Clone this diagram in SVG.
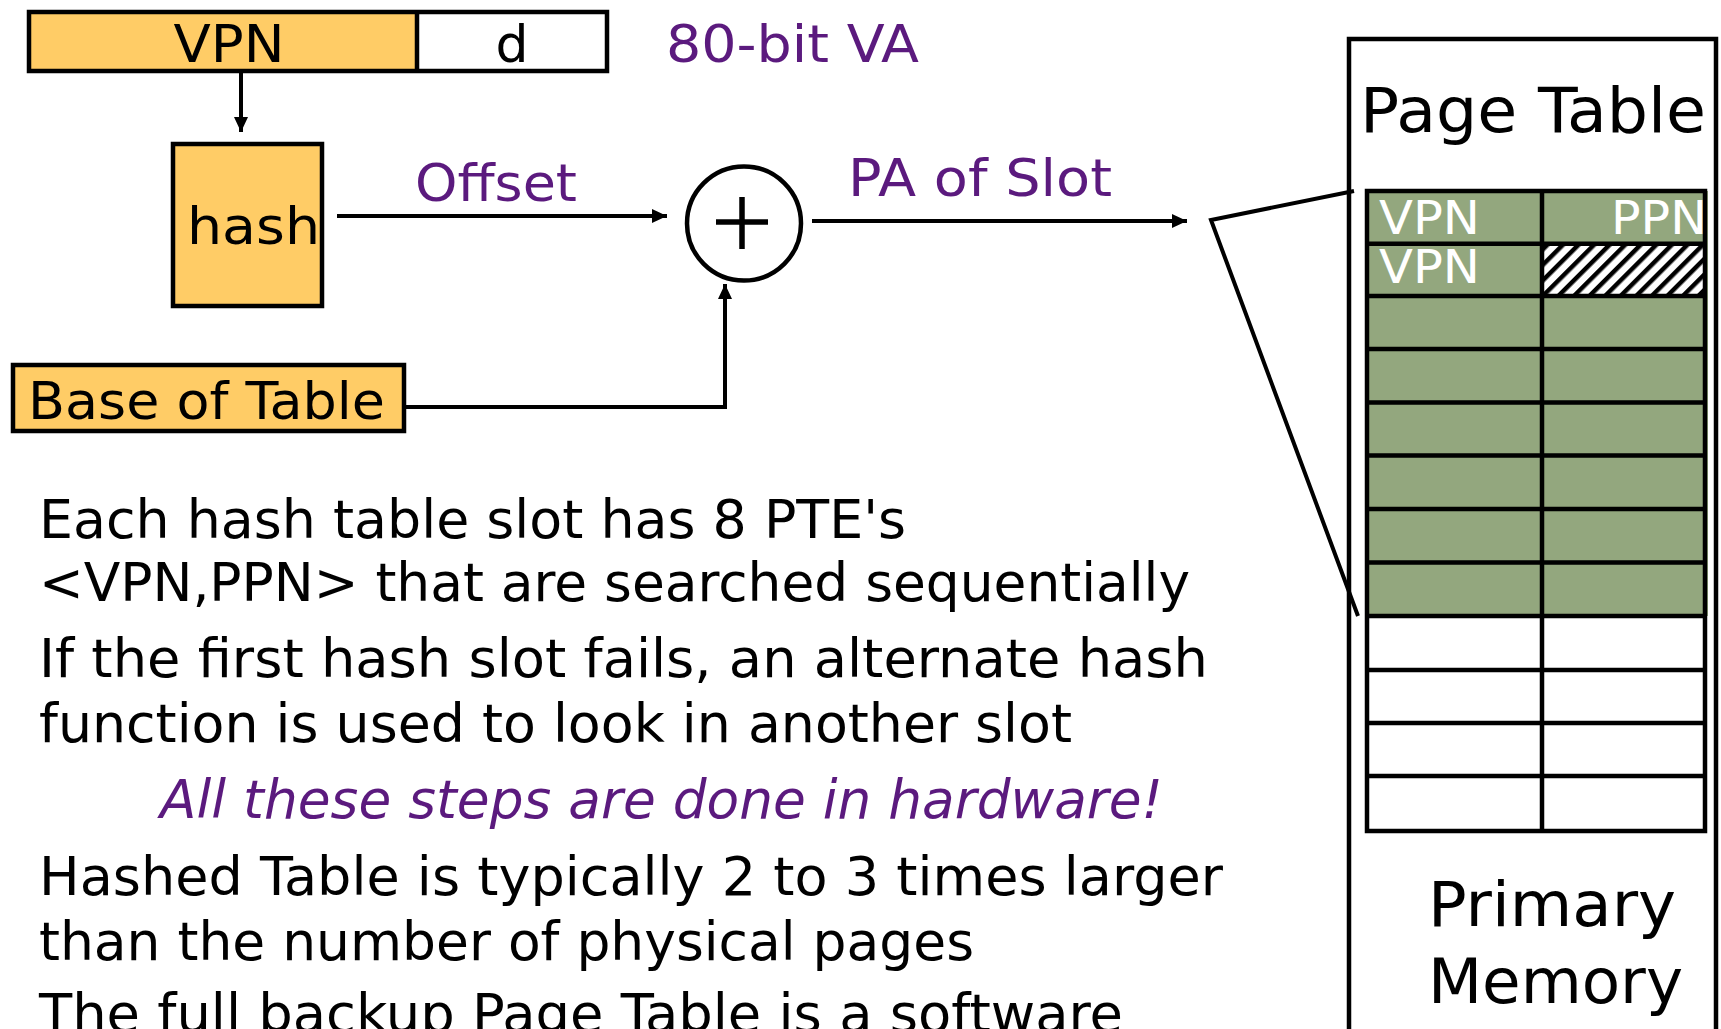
<svg xmlns="http://www.w3.org/2000/svg" width="1721" height="1029" viewBox="0 0 1721 1029">
<style>
  text { font-family: "DejaVu Sans", Verdana, sans-serif; fill: #000; }
  .purple { fill: #5b1a7e; }
  .box { stroke: #000; stroke-width: 4.5; }
  .orange { fill: #ffcc66; }
  .conn { stroke: #000; stroke-width: 4; fill: none; }
  .grid { stroke: #000; stroke-width: 4.5; fill: none; }
  .cell { fill: #ffffff; font-size: 46px; }
</style>
<defs>
  <marker id="arrow" viewBox="0 0 15 14" refX="15" refY="7" markerWidth="15" markerHeight="14" markerUnits="userSpaceOnUse" orient="auto">
    <path d="M0,0 L15,7 L0,14 Z" fill="#000"/>
  </marker>
  <pattern id="hatch" patternUnits="userSpaceOnUse" width="11" height="11" patternTransform="rotate(45)">
    <rect width="11" height="11" fill="#fff"/>
    <rect x="0" y="0" width="4.5" height="11" fill="#000"/>
  </pattern>
</defs>

<rect width="1721" height="1029" fill="#fff"/>

<g id="va">
  <rect x="29" y="12" width="388" height="59" class="orange"/>
  <rect x="417" y="12" width="190" height="59" fill="#fff"/>
  <rect x="29" y="12" width="578" height="59" class="box" fill="none"/>
  <line x1="417" y1="12" x2="417" y2="71" class="box"/>
  <text x="229" y="62" font-size="52" text-anchor="middle" textLength="111" lengthAdjust="spacingAndGlyphs">VPN</text>
  <text x="512" y="62" font-size="52" text-anchor="middle">d</text>
  <text x="666" y="62" font-size="52" class="purple" textLength="253" lengthAdjust="spacingAndGlyphs">80-bit VA</text>
</g>

<g id="hash">
  <rect x="173" y="144" width="149" height="162" class="box orange"/>
  <text x="187" y="244" font-size="52" textLength="133" lengthAdjust="spacingAndGlyphs">hash</text>
</g>

<g id="base">
  <rect x="13" y="365" width="391" height="66" class="box orange"/>
  <text x="28" y="419" font-size="52" textLength="357" lengthAdjust="spacingAndGlyphs">Base of Table</text>
</g>

<g id="adder">
  <circle cx="744" cy="223.5" r="57" fill="#fff" stroke="#000" stroke-width="4.5"/>
  <line x1="716" y1="222" x2="768" y2="222" stroke="#000" stroke-width="5.5"/>
  <line x1="742" y1="197" x2="742" y2="249" stroke="#000" stroke-width="5.5"/>
</g>

<g id="labels">
  <text x="415" y="201" font-size="52" class="purple" textLength="162" lengthAdjust="spacingAndGlyphs">Offset</text>
  <text x="848" y="196" font-size="52" class="purple" textLength="264" lengthAdjust="spacingAndGlyphs">PA of Slot</text>
</g>

<g id="connectors">
  <line x1="241" y1="73" x2="241" y2="132" class="conn" marker-end="url(#arrow)"/>
  <line x1="337" y1="216" x2="667" y2="216" class="conn" marker-end="url(#arrow)"/>
  <path d="M404,407 H725 V284" class="conn" marker-end="url(#arrow)"/>
  <line x1="812" y1="221" x2="1187" y2="221" class="conn" marker-end="url(#arrow)"/>
  <polyline points="1354,191 1211,220 1358,616" class="conn"/>
</g>

<g id="memory">
  <rect x="1349" y="39" width="367" height="1010" fill="none" class="box"/>
  <text x="1360" y="132" font-size="62" textLength="346" lengthAdjust="spacingAndGlyphs">Page Table</text>
  <text x="1428" y="926" font-size="62" textLength="248" lengthAdjust="spacingAndGlyphs">Primary</text>
  <text x="1428" y="1003" font-size="62" textLength="255" lengthAdjust="spacingAndGlyphs">Memory</text>
</g>

<g id="page-table">
  <rect x="1365" y="191" width="343" height="425" fill="#93a77e"/>
  <rect x="1542" y="243.7" width="163" height="52.3" fill="url(#hatch)"/>
  <rect x="1367" y="191" width="338" height="640" class="grid"/>
  <line x1="1542" y1="191" x2="1542" y2="831" class="grid"/>
  <path class="grid" d="M1367,243.7 H1705 M1367,296 H1705 M1367,349 H1705 M1367,402.5 H1705 M1367,455.5 H1705 M1367,509 H1705 M1367,562.6 H1705 M1367,616 H1705 M1367,670 H1705 M1367,723 H1705 M1367,776 H1705"/>
  <text x="1379" y="234" class="cell" textLength="101" lengthAdjust="spacingAndGlyphs">VPN</text>
  <text x="1707" y="234" class="cell" text-anchor="end" textLength="96" lengthAdjust="spacingAndGlyphs">PPN</text>
  <text x="1379" y="283" class="cell" textLength="101" lengthAdjust="spacingAndGlyphs">VPN</text>
</g>

<g id="notes" font-size="53">
  <text x="39" y="538" textLength="867" lengthAdjust="spacingAndGlyphs">Each hash table slot has 8 PTE's</text>
  <text x="39" y="601" textLength="1151" lengthAdjust="spacingAndGlyphs">&lt;VPN,PPN&gt; that are searched sequentially</text>
  <text x="39" y="677" textLength="1169" lengthAdjust="spacingAndGlyphs">If the first hash slot fails, an alternate hash</text>
  <text x="39" y="742" textLength="1033" lengthAdjust="spacingAndGlyphs">function is used to look in another slot</text>
  <text x="160" y="818" font-style="italic" class="purple" textLength="1003" lengthAdjust="spacingAndGlyphs">All these steps are done in hardware!</text>
  <text x="39" y="895" textLength="1184" lengthAdjust="spacingAndGlyphs">Hashed Table is typically 2 to 3 times larger</text>
  <text x="39" y="960" textLength="935" lengthAdjust="spacingAndGlyphs">than the number of physical pages</text>
  <text x="39" y="1032" textLength="1084" lengthAdjust="spacingAndGlyphs">The full backup Page Table is a software</text>
</g>
</svg>
